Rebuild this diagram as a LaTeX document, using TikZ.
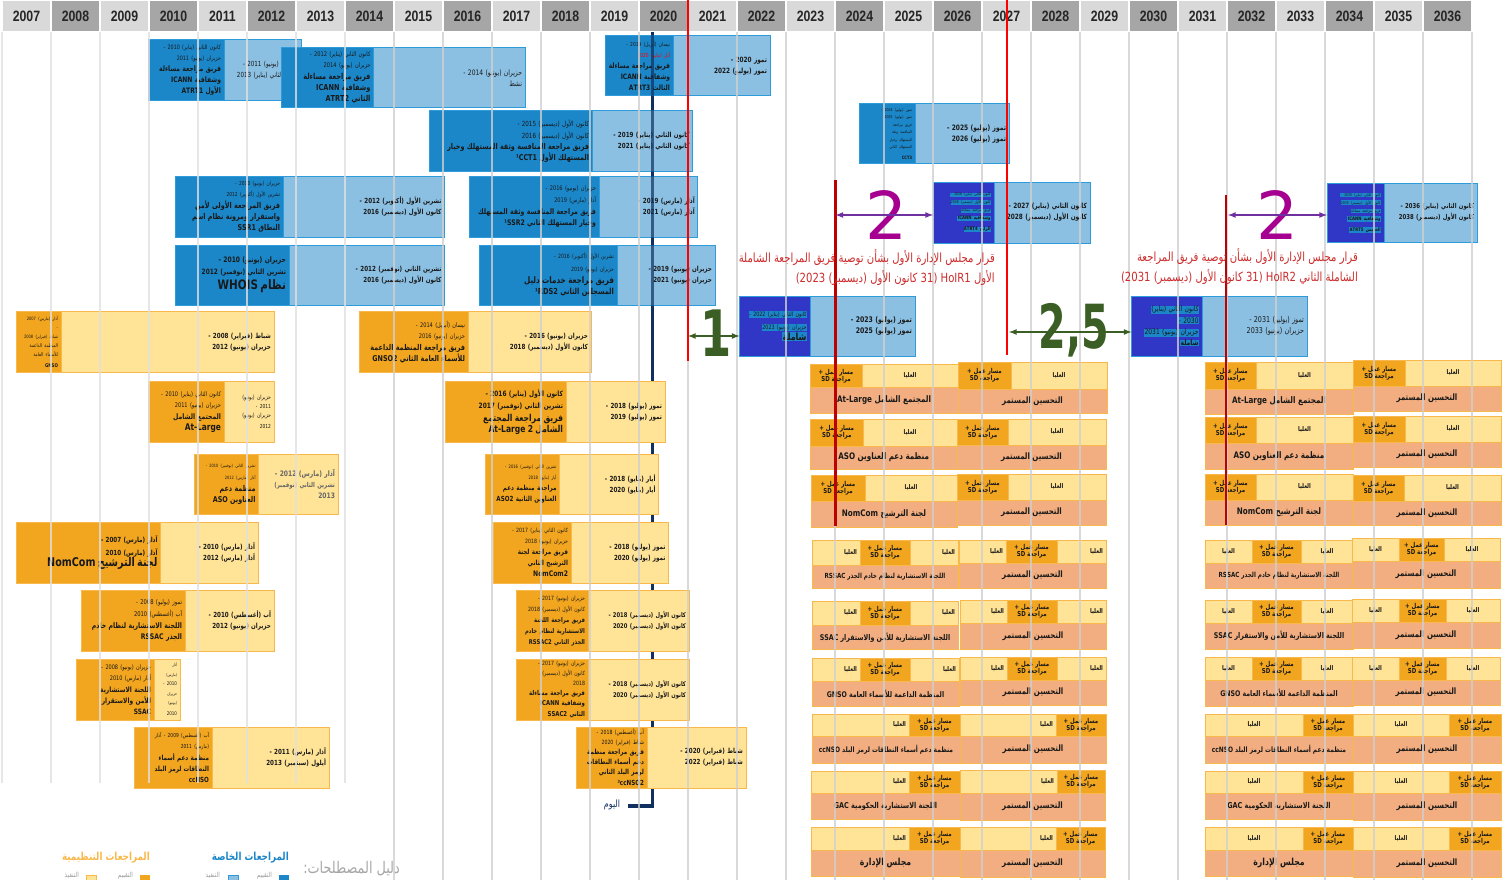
\documentclass[tikz,border=0pt]{standalone}
\usepackage{fontspec}
\usepackage{graphicx}
\usetikzlibrary{arrows}
\TeXXeTstate=1
\newfontfamily\arabicfont[Script=Arabic,FakeStretch=0.8]{DejaVu Sans}
\newfontfamily\yearfont[FakeStretch=0.82]{Liberation Sans}
\newfontfamily\digitfont{DejaVu Sans}
\definecolor{bluedark}{HTML}{1B87C9}
\definecolor{bluelight}{HTML}{8BC0E3}
\definecolor{blueedge}{HTML}{2E9BDA}
\definecolor{royal}{HTML}{3036C6}
\definecolor{orangedark}{HTML}{F2A51E}
\definecolor{orangelight}{HTML}{FFE397}
\definecolor{orangeedge}{HTML}{F8B84B}
\definecolor{peach}{HTML}{F2AE80}
\definecolor{gridgrey}{HTML}{CFCFCF}
\definecolor{gridpale}{HTML}{E0E0E0}
\definecolor{navyline}{HTML}{10305F}
\definecolor{greenmark}{HTML}{3B5E25}
\definecolor{purplearrow}{HTML}{7030A0}
\definecolor{purplemark}{HTML}{A5008F}
\definecolor{redcaption}{HTML}{CC2B2B}
\setlength{\fboxsep}{0.4pt}
\newcounter{cellno}
\newif\ifrightlabels
\newcommand{\ltr}[1]{\beginL#1\endL}
\newcommand{\rl}[2]{\leavevmode\hbox to 0pt{\hss\fontsize{#1}{#1}\selectfont\arabicfont #2}}
\newcommand{\rb}[2]{\leavevmode\hbox to 0pt{\hss\fontsize{#1}{#1}\selectfont\arabicfont\bfseries #2}}
\newcommand{\rh}[3]{\leavevmode\hbox to 0pt{\hss\colorbox{bluedark}{\fontsize{#1}{#1}\selectfont\arabicfont#3#2}}}
\newcommand{\cl}[2]{\leavevmode\hbox{\fontsize{#1}{#1}\selectfont\arabicfont\bfseries #2}}
\newcommand{\review}[9]{%
  \node[#7light,text width={(#4-#3-6)*1pt},minimum height={(#6-#5)*1pt}] (#1light) at (#3,#5) {#9};
  \node[#7dark,text width={(#3-#2-6)*1pt},minimum height={(#6-#5)*1pt}] (#1dark) at (#2,#5) {#8};
}
\newcommand{\cell}[6]{%
  \stepcounter{cellno}%
  \node[#5,minimum width={(#2-#1)*1pt},minimum height={(#4-#3)*1pt}] (cell\thecellno) at (#1,#3) {#6};
}
\newcommand{\wslabel}{\baselineskip=11pt\cl{6.8}{\beginR مسار عمل +\endR}\\\cl{6.8}{\beginR مراجعة \ltr{SD}\endR}}
\newcommand{\toplabel}{\cl{6.5}{\beginR العليا\endR}}
\newcommand{\toplab}[2]{\ifrightlabels\makebox[\dimexpr #2pt-#1pt-6pt\relax][r]{\toplabel}\else\toplabel\fi}
\newcommand{\rowA}[7]{%
  \cell{#1}{#3}{#5}{#6}{peachcell}{#7}
  \cell{#2}{#3}{#4}{#5}{lightcell}{\toplabel}
  \cell{#1}{#2}{#4}{#5}{orangecell}{\wslabel}
}
\newcommand{\rowB}[8]{%
  \cell{#1}{#4}{#6}{#7}{peachcell}{#8}
  \cell{#1}{#2}{#5}{#6}{lightcell}{\toplab{#1}{#2}}
  \cell{#3}{#4}{#5}{#6}{lightcell}{\toplab{#3}{#4}}
  \cell{#2}{#3}{#5}{#6}{orangecell}{\wslabel}
}
\newcommand{\rowC}[7]{%
  \cell{#1}{#3}{#5}{#6}{peachcell}{#7}
  \cell{#1}{#2}{#4}{#5}{lightcell}{\toplab{#1}{#2}}
  \cell{#2}{#3}{#4}{#5}{orangecell}{\wslabel}
}
\newcommand{\ci}{\cl{8.8}{\beginR التحسين المستمر\endR}}
\tikzset{
  yearlight/.style={fill=gridgrey!80,minimum width=47.5pt,minimum height=30pt,inner sep=0pt,anchor=north west,font=\yearfont\bfseries\fontsize{15}{15}\selectfont,text=black!85},
  yeardark/.style={yearlight,fill=black!35},
  revbase/.style={anchor=north west,inner xsep=3pt,inner ysep=0pt,outer sep=0pt,line width=1pt,align=right,text=black!90,font=\fontsize{7}{11}\selectfont},
  blueolddark/.style={revbase,fill=bluedark,draw=blueedge},
  blueoldlight/.style={revbase,fill=bluelight,draw=blueedge},
  royaldark/.style={revbase,fill=royal,draw=blueedge},
  royallight/.style={blueoldlight},
  orangedark/.style={revbase,fill=orangedark,draw=orangeedge},
  orangelight/.style={revbase,fill=orangelight,draw=orangeedge},
  cellbase/.style={anchor=north west,inner sep=0pt,outer sep=0pt,line width=1pt,align=center,text=black!90,font=\fontsize{5.5}{7}\selectfont},
  peachcell/.style={cellbase,fill=peach,draw=orangeedge},
  lightcell/.style={cellbase,fill=orangelight,draw=orangeedge},
  orangecell/.style={cellbase,fill=orangedark,draw=orangeedge},
  gridline/.style={draw=gridgrey,line width=1.4pt,opacity=.8},
  paleline/.style={draw=gridpale,line width=1.4pt,opacity=.8},
  redline/.style={draw=red,line width=2.2pt},
  cutline/.style={draw=red!75!black,line width=2.2pt},
  todayline/.style={draw=navyline,line width=3.5pt},
  greenarrow/.style={<->,>=latex,draw=greenmark,line width=1.6pt},
  purplearrow/.style={<->,>=latex,draw=purplearrow,line width=1.6pt},
  bigmark/.style={inner sep=0pt,font=\digitfont\bfseries\fontsize{64}{64}\selectfont},
  thinmark/.style={inner sep=0pt,font=\digitfont\fontsize{66}{66}\selectfont},
  caption/.style={anchor=east,inner sep=0pt,align=right,text=redcaption,font=\fontsize{12.6}{20}\selectfont},
  legendtext/.style={inner sep=0pt,anchor=east,text=black!40,font=\fontsize{7}{7}\selectfont},
}
\begin{document}
\begin{tikzpicture}[x=1pt,y=-1pt]
  \useasboundingbox (0,0) rectangle (1510,880);
  \clip (0,0) rectangle (1510,880);

  \coordinate (todaytop) at (652.5,32);
  \coordinate (todaycorner) at (652.5,806);
  \coordinate (todayend) at (628,806);
  \draw[todayline] (todaytop) -- (todaycorner) -- (todayend);
  \node[inner sep=0pt,text=navyline,font=\fontsize{10}{10}\selectfont] (todaylabel) at (612,805) {\hbox{\arabicfont\beginR اليوم\endR}};

  \review{atrt1}{148.5}{224}{301}{39.5}{100.5}{blueold}
    {\baselineskip=11pt\rl{6}{\beginR كانون الثاني (يناير) \ltr{2010} -\endR}\\\rl{6}{\beginR حزيران (يونيو) \ltr{2011}\endR}\\\rb{7.5}{\beginR فريق مراجعة مساءلة\endR}\\\rb{7.5}{\beginR وشفافية \ltr{ICANN}\endR}\\\rb{7.5}{\beginR الأول \ltr{ATRT1}\endR}}
    {\rl{7}{\beginR حزيران (يونيو) \ltr{2011} -\endR}\\\rl{7}{\beginR كانون الثاني (يناير) \ltr{2013}\endR}}
  \review{atrt2}{281}{373.5}{525}{48}{107.5}{blueold}
    {\baselineskip=11.5pt\rl{6.4}{\beginR كانون الثاني (يناير) \ltr{2012} -\endR}\\\rl{6.4}{\beginR حزيران (يونيو) \ltr{2014}\endR}\\\rb{8.2}{\beginR فريق مراجعة مساءلة\endR}\\\rb{8.2}{\beginR وشفافية \ltr{ICANN}\endR}\\\rb{8.2}{\beginR الثاني \ltr{ATRT2}\endR}}
    {\rl{7.5}{\beginR حزيران (يونيو) \ltr{2014} -\endR}\\\rl{7.5}{\beginR نشط\endR}}
  \review{atrt3}{605}{673}{770}{35.5}{96}{blueold}
    {\baselineskip=11pt\rl{5.5}{\beginR نيسان (أبريل) \ltr{2019} -\endR}\\\rl{5.5}{\color{red}\beginR آيار (مايو) \ltr{2020}\endR}\\\rb{7.4}{\beginR فريق مراجعة مساءلة\endR}\\\rb{7.4}{\beginR وشفافية \ltr{ICANN}\endR}\\\rb{7.4}{\beginR الثالث \ltr{ATRT3}\endR}}
    {\rb{7.2}{\beginR تموز \ltr{2020} -\endR}\\\rb{7.2}{\beginR تموز (يوليو) \ltr{2022}\endR}}
  \review{cct1}{429}{592}{692.7}{111}{171.5}{blueold}
    {\baselineskip=11.5pt\rl{7}{\beginR كانون الأول (ديسمبر) \ltr{2015} -\endR}\\\rl{7}{\beginR كانون الأول (ديسمبر) \ltr{2016}\endR}\\\rb{8}{\beginR فريق مراجعة المنافسة وثقة المستهلك وخيار\endR}\\\rb{8}{\beginR المستهلك الأول \ltr{¹CCT1}\endR}}
    {\rb{7}{\beginR كانون الثاني (يناير) \ltr{2019} -\endR}\\\rb{7}{\beginR كانون الثاني (يناير) \ltr{2021}\endR}}
  \review{ssrone}{175}{283}{444.5}{176.5}{237}{blueold}
    {\baselineskip=11.5pt\rl{5.5}{\beginR حزيران (يونيو) \ltr{2010} -\endR}\\\rl{5.5}{\beginR تشرين الأول (أكتوبر) \ltr{2012}\endR}\\\rb{8}{\beginR فريق المراجعة الأولى لأمن\endR}\\\rb{8}{\beginR واستقرار ومرونة نظام اسم\endR}\\\rb{8}{\beginR النطاق \ltr{SSR1}\endR}}
    {\rb{7}{\beginR تشرين الأول (أكتوبر) \ltr{2012} -\endR}\\\rb{7}{\beginR كانون الأول (ديسمبر) \ltr{2016}\endR}}
  \review{ssrtwo}{469.5}{599}{697.7}{176.5}{237}{blueold}
    {\baselineskip=12pt\rl{6.3}{\beginR حزيران (يونيو) \ltr{2016} -\endR}\\\rl{6.3}{\beginR آذار (مارس) \ltr{2019}\endR}\\\rb{7.7}{\beginR فريق مراجعة المنافسة وثقة المستهلك\endR}\\\rb{7.7}{\beginR وخيار المستهلك الثاني \ltr{¹SSR2}\endR}}
    {\rb{7}{\beginR آذار (مارس) \ltr{2019} -\endR}\\\rb{7}{\beginR آذار (مارس) \ltr{2021}\endR}}
  \review{whois}{175}{289}{444.5}{245}{305}{blueold}
    {\baselineskip=11.5pt\rb{7.5}{\beginR حزيران (يونيو) \ltr{2010} -\endR}\\\rb{7.3}{\beginR تشرين الثاني (نوفمبر) \ltr{2012}\endR}\\[3pt]\rb{13}{\beginR نظام \ltr{WHOIS}\endR}}
    {\rb{7}{\beginR تشرين الثاني (نوفمبر) \ltr{2012} -\endR}\\\rb{7}{\beginR كانون الأول (ديسمبر) \ltr{2016}\endR}}
  \review{rds}{479}{617}{715}{245}{305}{blueold}
    {\baselineskip=12.5pt\rl{5.8}{\beginR تشرين الأول (أكتوبر) \ltr{2016} -\endR}\\\rl{5.8}{\beginR حزيران (يونيو) \ltr{2019}\endR}\\\rb{9}{\beginR فريق مراجعة خدمات دليل\endR}\\\rb{8.3}{\beginR المسجلين الثاني \ltr{¹RDS2}\endR}}
    {\rb{7}{\beginR حزيران (يونيو) \ltr{2019} -\endR}\\\rb{7}{\beginR حزيران (يونيو) \ltr{2021}\endR}}

  \draw[todayline,opacity=.7] (todaytop) -- (todaycorner);

  \review{gnso}{16}{61}{274}{311.7}{372}{orange}
    {\baselineskip=9pt\rl{4.5}{\beginR آذار (مارس) \ltr{2007}\endR}\\\rl{4.5}{\beginR -\endR}\\\rl{4.5}{\beginR شباط (فبراير) \ltr{2008}\endR}\\\rl{5}{\beginR المنظمة الداعمة\endR}\\\rl{5}{\beginR للأسماء العامة\endR}\\\rb{5}{\beginR \ltr{GNSO}\endR}}
    {\rb{7}{\beginR شباط (فبراير) \ltr{2008} -\endR}\\\rb{7}{\beginR حزيران (يونيو) \ltr{2012}\endR}}
  \review{atlarge}{148.5}{224}{274}{381.5}{442}{orange}
    {\baselineskip=11.5pt\rl{6.3}{\beginR كانون الثاني (يناير) \ltr{2010} -\endR}\\\rl{6.3}{\beginR حزيران (يونيو) \ltr{2011}\endR}\\\rb{7.6}{\beginR المجتمع الشامل\endR}\\\rb{9.3}{\beginR \ltr{At-Large}\endR}}
    {\baselineskip=9pt\rl{5.8}{\beginR حزيران (يونيو)\endR}\\\rl{5.5}{\beginR \ltr{2011} -\endR}\\\rl{5.8}{\beginR حزيران (يونيو)\endR}\\\rl{5.5}{\beginR \ltr{2012}\endR}}
  \review{aso}{194}{258.5}{338}{454}{514.5}{orange}
    {\baselineskip=12pt\rl{4.4}{\beginR تشرين الثاني (نوفمبر) \ltr{2010} -\endR}\\\rl{4.4}{\beginR آذار (مارس) \ltr{2012}\endR}\\\rb{8}{\beginR منظمة دعم\endR}\\\rb{8}{\beginR العناوين \ltr{ASO}\endR}}
    {\color{black!60}\rb{7.5}{\beginR آذار (مارس) \ltr{2012} -\endR}\\\rb{6.7}{\beginR تشرين الثاني (نوفمبر)\endR}\\\rb{7.5}{\beginR \ltr{2013}\endR}}
  \review{nomcom}{16}{160.5}{258}{522.5}{583}{orange}
    {\baselineskip=12.5pt\rb{7}{\beginR آذار (مارس) \ltr{2007} -\endR}\\\rb{7}{\beginR آذار (مارس) \ltr{2010}\endR}\\\rb{12}{\beginR لجنة الترشيح \ltr{NomCom}\endR}}
    {\rb{7}{\beginR آذار (مارس) \ltr{2010} -\endR}\\\rb{7}{\beginR آذار (مارس) \ltr{2012}\endR}}
  \review{rssac}{81}{185}{274}{590.5}{651}{orange}
    {\baselineskip=12pt\rl{6.5}{\beginR تموز (يوليو) \ltr{2008} -\endR}\\\rl{6.5}{\beginR آب (أغسطس) \ltr{2010}\endR}\\\rb{7.7}{\beginR اللجنة الاستشارية لنظام خادم\endR}\\\rb{7.7}{\beginR الجذر \ltr{RSSAC}\endR}}
    {\rb{7}{\beginR آب (أغسطس) \ltr{2010} -\endR}\\\rb{7}{\beginR حزيران (يونيو) \ltr{2012}\endR}}
  \review{ssac}{76}{154}{180}{659}{720}{orange}
    {\baselineskip=11.5pt\rl{6.2}{\beginR حزيران (يونيو) \ltr{2008} -\endR}\\\rl{6.2}{\beginR آذار (مارس) \ltr{2010}\endR}\\\rb{7.3}{\beginR اللجنة الاستشارية\endR}\\\rb{7.3}{\beginR للأمن والاستقرار\endR}\\\rb{7.3}{\beginR \ltr{SSAC}\endR}}
    {\baselineskip=9.5pt\rl{4}{\beginR آذار\endR}\\\rl{4}{\beginR (مارس)\endR}\\\rl{5}{\beginR \ltr{2010} -\endR}\\\rl{4}{\beginR حزيران\endR}\\\rl{4}{\beginR (يونيو)\endR}\\\rl{5}{\beginR \ltr{2010}\endR}}
  \review{ccnso}{134}{212}{329}{727}{788}{orange}
    {\baselineskip=11.5pt\rl{5.5}{\beginR آب (أغسطس) \ltr{2009} - آذار\endR}\\\rl{5.5}{\beginR (مارس) \ltr{2011}\endR}\\\rb{7}{\beginR منظمة دعم أسماء\endR}\\\rb{7}{\beginR النطاقات لرمز البلد\endR}\\\rb{7}{\beginR \ltr{ccNSO}\endR}}
    {\rb{7}{\beginR آذار (مارس) \ltr{2011} -\endR}\\\rb{7}{\beginR أيلول (سبتمبر) \ltr{2013}\endR}}
  \review{gnsotwo}{359}{468}{591}{311.7}{372}{orange}
    {\baselineskip=11.5pt\rl{6.3}{\beginR نيسان (أبريل) \ltr{2014} -\endR}\\\rl{6.3}{\beginR حزيران (يونيو) \ltr{2016}\endR}\\\rb{8}{\beginR فريق مراجعة المنظمة الداعمة\endR}\\\rb{8}{\beginR للأسماء العامة الثاني \ltr{GNSO2}\endR}}
    {\rb{7}{\beginR حزيران (يونيو) \ltr{2016} -\endR}\\\rb{7}{\beginR كانون الأول (ديسمبر) \ltr{2018}\endR}}
  \review{atlargetwo}{445}{566}{665}{381.5}{442}{orange}
    {\baselineskip=12.5pt\rb{7.3}{\beginR كانون الأول (يناير) \ltr{2016} -\endR}\\\rb{7.3}{\beginR تشرين الثاني (نوفمبر) \ltr{2017}\endR}\\\rb{9.5}{\beginR فريق مراجعة المجتمع\endR}\\\rb{9.5}{\beginR الشامل \ltr{At-Large 2}\endR}}
    {\rb{7}{\beginR تموز (يوليو) \ltr{2018} -\endR}\\\rb{7}{\beginR تموز (يوليو) \ltr{2019}\endR}}
  \review{asotwo}{485}{559.5}{658.5}{454}{514.5}{orange}
    {\baselineskip=11pt\rl{4.6}{\beginR تشرين الثاني (نوفمبر) \ltr{2016} -\endR}\\\rl{4.6}{\beginR أيار (مايو) \ltr{2018}\endR}\\\rb{7}{\beginR مراجعة منظمة دعم\endR}\\\rb{7}{\beginR العناوين الثانية \ltr{ASO2}\endR}}
    {\rb{7}{\beginR أيار (مايو) \ltr{2018} -\endR}\\\rb{7}{\beginR أيار (مايو) \ltr{2020}\endR}}
  \review{nomcomtwo}{493.5}{571}{668.5}{522.5}{583}{orange}
    {\baselineskip=11pt\rl{5.8}{\beginR كانون الثاني (يناير) \ltr{2017} -\endR}\\\rl{5.8}{\beginR حزيران (يونيو) \ltr{2018}\endR}\\\rb{7}{\beginR فريق مراجعة لجنة\endR}\\\rb{7}{\beginR الترشيح الثاني\endR}\\\rb{7.6}{\beginR \ltr{NomCom2}\endR}}
    {\rb{7}{\beginR تموز (يوليو) \ltr{2018} -\endR}\\\rb{7}{\beginR تموز (يوليو) \ltr{2020}\endR}}
  \review{rssactwo}{516}{588}{689}{590.5}{651}{orange}
    {\baselineskip=11pt\rl{5.8}{\beginR حزيران (يونيو) \ltr{2017} -\endR}\\\rl{5.8}{\beginR كانون الأول (ديسمبر) \ltr{2018}\endR}\\\rb{6.5}{\beginR فريق مراجعة اللجنة\endR}\\\rb{6.5}{\beginR الاستشارية لنظام خادم\endR}\\\rb{6.5}{\beginR الجذر الثاني \ltr{RSSAC2}\endR}}
    {\rb{6.5}{\beginR كانون الأول (ديسمبر) \ltr{2018} -\endR}\\\rb{6.5}{\beginR كانون الأول (ديسمبر) \ltr{2020}\endR}}
  \review{ssactwo}{516}{588}{689}{659}{720}{orange}
    {\baselineskip=10pt\rl{5.8}{\beginR حزيران (يونيو) \ltr{2017} -\endR}\\\rl{5.8}{\beginR كانون الأول (ديسمبر)\endR}\\\rl{5.8}{\beginR \ltr{2018}\endR}\\\rb{6.7}{\beginR فريق مراجعة مساءلة\endR}\\\rb{6.7}{\beginR وشفافية \ltr{ICANN}\endR}\\\rb{6.7}{\beginR الثاني \ltr{SSAC2}\endR}}
    {\rb{6.5}{\beginR كانون الأول (ديسمبر) \ltr{2018} -\endR}\\\rb{6.5}{\beginR كانون الأول (ديسمبر) \ltr{2020}\endR}}
  \review{ccnsotwo}{576}{647}{746}{727}{788}{orange}
    {\baselineskip=10pt\rl{5.8}{\beginR آب (أغسطس) \ltr{2018} -\endR}\\\rl{5.8}{\beginR شباط (فبراير) \ltr{2020}\endR}\\\rb{7}{\beginR فريق مراجعة منظمة\endR}\\\rb{7}{\beginR دعم أسماء النطاقات\endR}\\\rb{7}{\beginR لرمز البلد الثاني\endR}\\\rb{7}{\beginR \ltr{³ccNSO2}\endR}}
    {\rb{7}{\beginR شباط (فبراير) \ltr{2020} -\endR}\\\rb{7}{\beginR شباط (فبراير) \ltr{2022}\endR}}

  \review{hoirone}{739.5}{810}{915}{296}{356}{royal}
    {\baselineskip=13pt\rh{6}{\beginR كانون الثاني (يناير) \ltr{2022} -\endR}{}\\\rh{6}{\beginR حزيران (يونيو) \ltr{2023}\endR}{}\\\rh{10}{\beginR شاملة\endR}{\bfseries}}
    {\rb{7.7}{\beginR تموز (يوليو) \ltr{2023} -\endR}\\\rb{7.7}{\beginR تموز (يوليو) \ltr{2025}\endR}}
  \review{ccttwo}{859}{915}{1009}{104}{164}{blueold}
    {\baselineskip=7.5pt\rl{4}{\beginR تموز (يوليو) \ltr{2024} -\endR}\\\rl{4}{\beginR تموز (يوليو) \ltr{2025}\endR}\\\rl{4}{\beginR فريق مراجعة\endR}\\\rl{4}{\beginR المنافسة وثقة\endR}\\\rl{4}{\beginR المستهلك وخيار\endR}\\\rl{4}{\beginR المستهلك الثاني\endR}\\\rb{4.5}{\beginR \ltr{CCT3}\endR}}
    {\rb{7.4}{\beginR تموز (يوليو) \ltr{2025} -\endR}\\\rb{7.4}{\beginR تموز (يوليو) \ltr{2026}\endR}}
  \review{atrtfour}{933}{994}{1090}{182}{243}{royal}
    {\baselineskip=8pt\rh{3.8}{\beginR كانون الثاني (يناير) \ltr{2026} -\endR}{}\\\rh{3.8}{\beginR كانون الأول (ديسمبر) \ltr{2026}\endR}{}\\\rh{3.8}{\beginR فريق مراجعة مساءلة\endR}{}\\\rh{4.8}{\beginR وشفافية \ltr{ICANN}\endR}{\bfseries}\\\rh{4.8}{\beginR الرابع \ltr{ATRT4}\endR}{\bfseries}}
    {\rb{7.2}{\beginR كانون الثاني (يناير) \ltr{2027} -\endR}\\\rb{7.2}{\beginR كانون الأول (ديسمبر) \ltr{2028}\endR}}
  \review{hoirtwo}{1131.5}{1202}{1307}{296}{356}{royal}
    {\baselineskip=11.5pt\rh{7.5}{\beginR كانون الثاني (يناير)\endR}{}\\\rh{7.5}{\beginR \ltr{2030} -\endR}{}\\\rh{7.5}{\beginR حزيران (يونيو) \ltr{2031}\endR}{}\\\rh{7.5}{\beginR شاملة\endR}{\bfseries}}
    {\rl{8}{\beginR تموز (يوليو) \ltr{2031} -\endR}\\\rl{8}{\beginR حزيران (يونيو) \ltr{2033}\endR}}
  \review{atrtfive}{1327}{1384}{1477}{183.5}{242}{royal}
    {\baselineskip=8pt\rh{3.8}{\beginR كانون الثاني (يناير) \ltr{2035} -\endR}{}\\\rh{3.8}{\beginR كانون الأول (ديسمبر) \ltr{2035}\endR}{}\\\rh{3.8}{\beginR فريق مراجعة مساءلة\endR}{}\\\rh{4.8}{\beginR وشفافية \ltr{ICANN}\endR}{\bfseries}\\\rh{4.8}{\beginR الخامس \ltr{ATRT5}\endR}{\bfseries}}
    {\rb{6.7}{\beginR كانون الثاني (يناير) \ltr{2036} -\endR}\\\rb{6.7}{\beginR كانون الأول (ديسمبر) \ltr{2038}\endR}}

  \rightlabelstrue
  \rowA{810}{862}{958}{364.5}{387}{413.5}{\cl{9}{\beginR المجتمع الشامل \ltr{At-Large}\endR}}
  \rowA{958}{1011}{1107}{362}{389}{413}{\ci}
  \rowA{810.5}{863}{957}{419}{446}{469}{\cl{9}{\beginR منظمة دعم العناوين \ltr{ASO}\endR}}
  \rowA{957}{1008}{1106}{419}{445}{469}{\ci}
  \rowA{811}{865}{957}{475}{501}{527}{\cl{9}{\beginR لجنة الترشيح \ltr{NomCom}\endR}}
  \rowA{957}{1008}{1106}{474}{500}{525}{\ci}
  \rowB{812}{860}{910}{958}{540}{565}{588}{\cl{7}{\beginR اللجنة الاستشارية لنظام خادم الجذر \ltr{RSSAC}\endR}}
  \rowB{959}{1006}{1057}{1106}{540}{563}{588}{\ci}
  \rowB{812}{860}{910}{958}{601}{625}{649.5}{\cl{7.9}{\beginR اللجنة الاستشارية للأمن والاستقرار \ltr{SSAC}\endR}}
  \rowB{960}{1007}{1057}{1106}{600}{623}{649}{\ci}
  \rowB{812}{860}{910}{959}{658}{681}{706}{\cl{7.8}{\beginR المنظمة الداعمة للأسماء العامة \ltr{GNSO}\endR}}
  \rowB{960}{1007}{1057}{1106}{657}{680}{705}{\ci}
  \rowC{812}{909}{960}{714}{736}{763}{\cl{7.4}{\beginR منظمة دعم أسماء النطاقات لرمز البلد \ltr{ccNSO}\endR}}
  \rowC{960}{1056}{1106}{714}{736}{763}{\ci}
  \rowC{811}{909}{960}{771}{793}{819}{\cl{8.1}{\beginR اللجنة الاستشارية الحكومية \ltr{GAC}\endR}}
  \rowC{960}{1057}{1105}{770}{793}{820}{\ci}
  \rowC{811}{909}{960}{827}{850}{876}{\cl{9.7}{\beginR مجلس الإدارة\endR}}
  \rowC{960}{1056}{1105}{827}{850}{877}{\ci}

  \rightlabelsfalse
  \rowA{1205}{1256}{1353}{362}{389}{414}{\cl{9}{\beginR المجتمع الشامل \ltr{At-Large}\endR}}
  \rowA{1353}{1405}{1501}{360}{386}{411}{\ci}
  \rowA{1205}{1256}{1353}{417}{443}{469}{\cl{9}{\beginR منظمة دعم العناوين \ltr{ASO}\endR}}
  \rowA{1353}{1405}{1501}{416}{442}{467}{\ci}
  \rowA{1205}{1256}{1353}{474}{500}{525}{\cl{9}{\beginR لجنة الترشيح \ltr{NomCom}\endR}}
  \rowA{1353}{1404}{1501}{475}{501}{525}{\ci}
  \rowB{1205}{1252}{1301}{1353}{540}{563}{588}{\cl{7}{\beginR اللجنة الاستشارية لنظام خادم الجذر \ltr{RSSAC}\endR}}
  \rowB{1352}{1399}{1444}{1500}{538}{561}{588}{\ci}
  \rowB{1205}{1252}{1301}{1353}{600}{623}{649}{\cl{7.9}{\beginR اللجنة الاستشارية للأمن والاستقرار \ltr{SSAC}\endR}}
  \rowB{1352}{1399}{1446}{1500}{599}{622}{648}{\ci}
  \rowB{1205}{1252}{1301}{1353}{657}{680}{706}{\cl{7.8}{\beginR المنظمة الداعمة للأسماء العامة \ltr{GNSO}\endR}}
  \rowB{1352}{1399}{1446}{1500}{657}{680}{705}{\ci}
  \rowC{1205}{1303}{1353}{714}{736}{763}{\cl{7.4}{\beginR منظمة دعم أسماء النطاقات لرمز البلد \ltr{ccNSO}\endR}}
  \rowC{1353}{1449}{1501}{714}{736}{763}{\ci}
  \rowC{1205}{1303}{1353}{771}{793}{819}{\cl{8.1}{\beginR اللجنة الاستشارية الحكومية \ltr{GAC}\endR}}
  \rowC{1353}{1449}{1501}{771}{793}{820}{\ci}
  \rowC{1205}{1303}{1353}{827}{850}{876}{\cl{9.7}{\beginR مجلس الإدارة\endR}}
  \rowC{1353}{1449}{1501}{827}{850}{877}{\ci}

  \foreach \yr [count=\i from 0] in {2007,2008,...,2036} {
    \pgfmathsetmacro{\xcell}{2.5+49*\i}
    \ifodd\yr
      \node[yearlight] (y\yr) at (\xcell,1) {\yr};
    \else
      \node[yeardark] (y\yr) at (\xcell,1) {\yr};
    \fi
  }
  \foreach \i in {0,...,7} {
    \pgfmathsetmacro{\xline}{2+49*\i}
    \draw[paleline] (\xline,32) -- (\xline,783);
  }
  \foreach \i in {8,...,30} {
    \pgfmathsetmacro{\xline}{2+49*\i}
    \draw[gridline] (\xline,32) -- (\xline,880);
  }

  \coordinate (redatop) at (688,0);
  \coordinate (redabot) at (688,361);
  \coordinate (redbtop) at (1007,0);
  \coordinate (redbbot) at (1007,355);
  \coordinate (cutatop) at (835.5,180);
  \coordinate (cutabot) at (835.5,526);
  \coordinate (cutbtop) at (1226,195);
  \coordinate (cutbbot) at (1226,525);
  \draw[redline] (redatop) -- (redabot);
  \draw[redline] (redbtop) -- (redbbot);
  \draw[cutline] (cutatop) -- (cutabot);
  \draw[cutline] (cutbtop) -- (cutbbot);

  \node[bigmark,text=greenmark] (gapone) at (716,333) {\scalebox{.7}[1]{1}};
  \node[bigmark,text=greenmark] (gaptwohalf) at (1074,330) {\scalebox{.62}[.95]{2,5}};
  \node[thinmark,text=purplemark] (gaptwoa) at (886,215) {2};
  \node[thinmark,text=purplemark] (gaptwob) at (1277,215) {2};
  \draw[greenarrow] (redabot |- gapone) ++(0,3) coordinate (gaponea) -- (hoironedark.west |- gaponea);
  \draw[greenarrow] (redbbot |- gaptwohalf) ++(2,2) coordinate (gaptwoc) -- (hoirtwodark.west |- gaptwoc);
  \draw[purplearrow] (cutatop |- gaptwoa) -- (atrtfourdark.west |- gaptwoa);
  \draw[purplearrow] (cutbtop |- gaptwob) ++(2,0) coordinate (gaptwod) -- (atrtfivedark.west |- gaptwod);

  \node[caption] (captiona) at (995,268) {\hbox{\arabicfont\beginR قرار مجلس الإدارة الأول بشأن توصية فريق المراجعة الشاملة\endR}\\\hbox{\arabicfont\beginR الأول \ltr{HoIR1} (\ltr{31} كانون الأول (ديسمبر) \ltr{2023})\endR}};
  \node[caption] (captionb) at (1358,267) {\hbox{\arabicfont\beginR قرار مجلس الإدارة الأول بشأن توصية فريق المراجعة\endR}\\\hbox{\arabicfont\beginR الشاملة الثاني \ltr{HoIR2} (\ltr{31} كانون الأول (ديسمبر) \ltr{2031})\endR}};

  \node[inner sep=0pt,anchor=east,text=black!35,font=\fontsize{16}{16}\selectfont] (legendtitle) at (400,869) {\hbox{\arabicfont\beginR دليل المصطلحات:\endR}};
  \node[inner sep=0pt,anchor=east,text=bluedark,font=\bfseries\fontsize{11}{11}\selectfont] (legendblue) at (289,858) {\hbox{\arabicfont\beginR المراجعات الخاصة\endR}};
  \node[inner sep=0pt,anchor=east,text=orangeedge,font=\bfseries\fontsize{11}{11}\selectfont] (legendorange) at (150,858) {\hbox{\arabicfont\beginR المراجعات التنظيمية\endR}};
  \node[fill=bluedark,minimum size=10pt,inner sep=0pt,anchor=north west] (keybluea) at (279,875) {};
  \node[fill=bluelight,draw=blueedge,minimum size=10pt,inner sep=0pt,anchor=north west] (keyblueb) at (228,875) {};
  \node[fill=orangedark,minimum size=10pt,inner sep=0pt,anchor=north west] (keyorangea) at (140,875) {};
  \node[fill=orangelight,draw=orangeedge,minimum size=10pt,inner sep=0pt,anchor=north west] (keyorangeb) at (86,875) {};
  \node[legendtext] (keytexta) at (272,875.5) {\hbox{\arabicfont\beginR التقييم\endR}};
  \node[legendtext] (keytextb) at (220,875.5) {\hbox{\arabicfont\beginR التنفيذ\endR}};
  \node[legendtext] (keytextc) at (133,875.5) {\hbox{\arabicfont\beginR التقييم\endR}};
  \node[legendtext] (keytextd) at (79,875.5) {\hbox{\arabicfont\beginR التنفيذ\endR}};
\end{tikzpicture}
\end{document}
